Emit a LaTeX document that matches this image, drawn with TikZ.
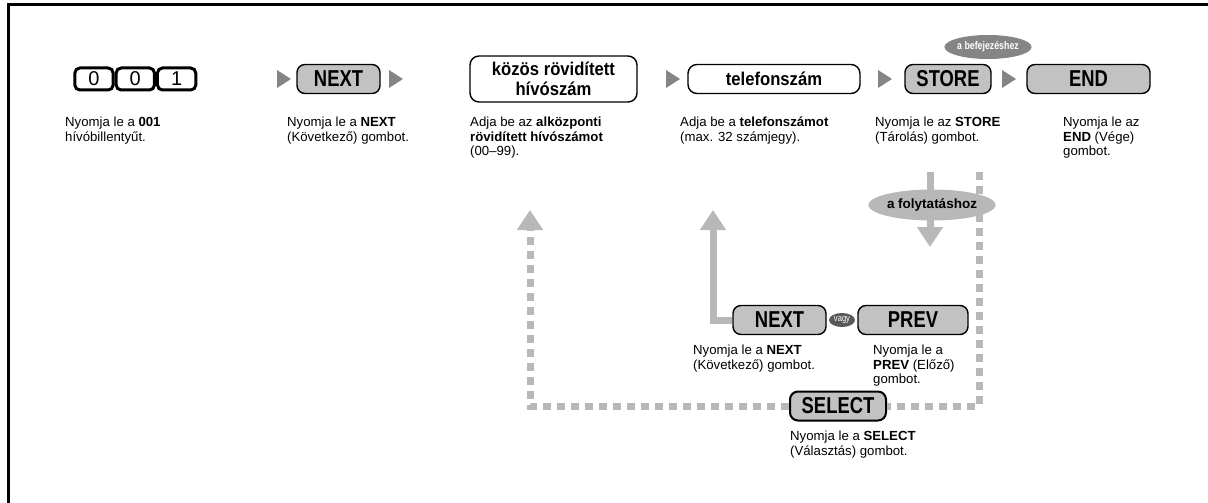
\documentclass[tikz,border=0pt]{standalone}
\usepackage{fontspec}
\setmainfont{Liberation Sans}
\newfontfamily\btnfont[FakeStretch=0.8]{Liberation Sans}
\newfontfamily\entryfont[FakeStretch=0.9]{Liberation Sans}
\usetikzlibrary{positioning,arrows.meta,shapes.geometric}
\definecolor{btngray}{gray}{0.76}
\definecolor{trigray}{gray}{0.52}
\definecolor{flowgray}{gray}{0.72}

\begin{document}
\begin{tikzpicture}[x=1pt, y=-1pt,
  font=\fontsize{13.2}{14.3}\selectfont,
  key/.style={draw, line width=3pt, rounded corners=5pt, inner sep=0pt,
              minimum width=38.3pt, minimum height=22pt, font=\fontsize{20}{20}\selectfont},
  btn/.style={draw, line width=1.4pt, rounded corners=8pt, fill=btngray, inner sep=0pt,
              minimum height=29pt, font=\btnfont\bfseries\fontsize{23}{23}\selectfont},
  entry/.style={draw, line width=1.4pt, rounded corners=9pt, fill=white, align=center,
                inner sep=0pt, font=\entryfont\bfseries\fontsize{18.5}{20}\selectfont},
  note/.style={anchor=north west, align=left, inner sep=0pt},
  bubble/.style={ellipse, inner sep=0pt},
  tri/.style={fill=trigray},
  flow/.style={line width=7pt, draw=flowgray},
  flowdash/.style={flow, dash pattern=on 8pt off 6pt},
  tip/.style={-{Triangle[length=20pt, width=25pt]}}]
\useasboundingbox (0,0) rectangle (1208,503);
\draw[line width=3pt] (8,503) -- (8,5) -- (1208,5);

% main row
\node[key] (k1) at (94,79) {0};
\node[key, right=0pt of k1] (k2) {0};
\node[key, right=0pt of k2] (k3) {1};
\node[btn, minimum width=83pt] (next) at (338.5,79) {NEXT};
\node[entry, minimum width=167pt, minimum height=46pt] (abbr) at (553.5,79) {közös rövidített\\hívószám};
\node[entry, minimum width=172pt, minimum height=29pt] (tel) at (774,79) {telefonszám};
\node[btn, minimum width=86pt] (store) at (948,79) {STORE};
\node[btn, minimum width=123pt] (end) at (1088.5,79) {END};
\node[bubble, fill=trigray, minimum width=84pt, minimum height=24pt, text=white,
      font=\btnfont\bfseries\fontsize{11}{11}\selectfont] (fin) at (988,47) {a befejezéshez};

\foreach \x in {277,389,666,878,1002}
  \fill[tri] (\x,70) -- ++(14,9) -- ++(-14,9) -- cycle;

\node[note] (d1) at (65,117) {Nyomja le a \textbf{001}\\hívóbillentyűt.};
\node[note] (d2) at (287,117) {Nyomja le a \textbf{NEXT}\\(Következő) gombot.};
\node[note] (d3) at (470,117) {Adja be az \textbf{alközponti}\\\textbf{rövidített hívószámot}\\(00–99).};
\node[note] (d4) at (680,117) {Adja be a \textbf{telefonszámot}\\(max. 32 számjegy).};
\node[note] (d5) at (875,117) {Nyomja le az \textbf{STORE}\\(Tárolás) gombot.};
\node[note] (d6) at (1063,117) {Nyomja le az\\\textbf{END} (Vége)\\gombot.};

% lower loop
\node[btn, minimum width=93pt] (next2) at (779.5,320) {NEXT};
\node[btn, minimum width=110pt] (prev) at (913,320) {PREV};
\node[bubble, fill=black!65, minimum width=26pt, minimum height=14pt, text=white,
      font=\btnfont\fontsize{9.5}{9.5}\selectfont] (or) at (842,320) {vagy};
\node[btn, line width=2pt, minimum width=96pt] (select) at (838,406) {SELECT};

\coordinate (upend) at (713,210);
\coordinate (backend) at (530,210);
\coordinate (contL) at (930,172);
\coordinate (contR) at (979,172);
\coordinate (downend) at (930,247);

\draw[flow, tip] (next2.west) -| (upend);
\draw[flow, tip] (contL) -- (downend);
\draw[flowdash] (contR) |- (select.east);
\draw[flowdash, tip] (select.west) -| (backend);

\node[bubble, fill=flowgray, minimum width=120pt, minimum height=31pt,
      font=\bfseries\fontsize{13.5}{13.5}\selectfont] (cont) at (932,205) {a folytatáshoz};

\node[note] (d7) at (693,345) {Nyomja le a \textbf{NEXT}\\(Következő) gombot.};
\node[note] (d8) at (873,345) {Nyomja le a\\\textbf{PREV} (Előző)\\gombot.};
\node[note] (d9) at (790,431) {Nyomja le a \textbf{SELECT}\\(Választás) gombot.};
\end{tikzpicture}
\end{document}
